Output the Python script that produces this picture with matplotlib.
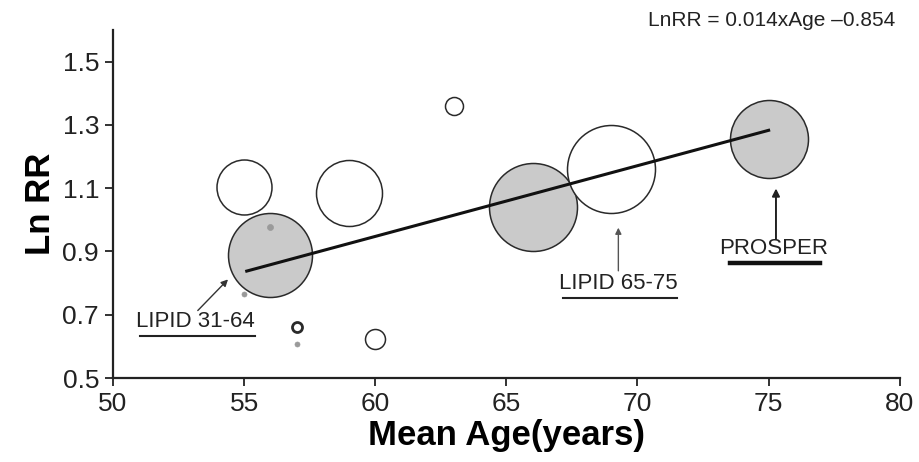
import matplotlib.pyplot as plt

plt.rcParams['font.family'] = ['Liberation Sans', 'DejaVu Sans']

# study points: mean age, ln relative risk, bubble radius (px), shaded or not
ages = [55, 59, 63, 56, 66, 69, 75, 60, 57, 57, 56, 55]
lnrr = [1.103, 1.086, 1.36, 0.889, 1.04, 1.16, 1.255, 0.624, 0.66, 0.607, 0.977, 0.764]
weight = [27.5, 33, 9, 42, 44, 44, 39, 10, 5, 2.5, 3, 2.5]
shaded = [False, False, False, True, True, False, True, False, False, True, True, True]

# fitted line end points
fit_age = [55.1, 75.0]
fit_lnrr = [0.838, 1.283]

xticks = [50, 55, 60, 65, 70, 75, 80]
yticks = [0.5, 0.7, 0.9, 1.1, 1.3, 1.5]

fig = plt.figure(figsize=(9.2, 4.62), dpi=100)
ax = fig.add_axes([0.1228, 0.1818, 0.978 - 0.1228, 0.935 - 0.1818])

for a, l, w, s in zip(ages, lnrr, weight, shaded):
    d = 2 * w * 0.72
    if w < 4:
        ax.scatter(a, l, s=d * d, facecolor='#9a9a9a', edgecolor='#9a9a9a',
                   linewidth=0.5, zorder=3)
    else:
        lw = 2.0 if w < 6 else 1.1
        ax.scatter(a, l, s=d * d, facecolor='#cacaca' if s else 'white',
                   edgecolor='#2a2a2a', linewidth=lw, zorder=2)

ax.plot(fit_age, fit_lnrr, color='#111111', linewidth=2.2, zorder=4)

ax.set_xlim(50, 80)
ax.set_ylim(0.5, 1.6)
ax.set_xticks(xticks)
ax.set_yticks(yticks)
ax.set_yticklabels(['%.1f' % v for v in yticks])
ax.spines['top'].set_visible(False)
ax.spines['right'].set_visible(False)
for sp in ['left', 'bottom']:
    ax.spines[sp].set_linewidth(1.6)
    ax.spines[sp].set_color('#222222')
ax.tick_params(direction='out', length=6, width=1.3, colors='#222222',
               labelsize=19, pad=4)

ax.set_xlabel('Mean Age(years)', fontsize=25, fontweight='bold', labelpad=2)
ax.set_ylabel('Ln RR', fontsize=25, fontweight='bold', labelpad=4)

# annotations
ax.annotate('', xy=(54.46, 0.818), xytext=(53.16, 0.707),
            arrowprops=dict(arrowstyle='-|>', color='#333333', lw=1.0,
                            mutation_scale=10))
ax.text(53.13, 0.678, 'LIPID 31-64', fontsize=16, ha='center', va='center',
        color='#222222')
ax.plot([51.03, 55.41], [0.633, 0.633], color='#222222', lw=1.5, clip_on=False)

ax.annotate('', xy=(69.27, 0.984), xytext=(69.27, 0.83),
            arrowprops=dict(arrowstyle='-|>', color='#555555', lw=1.0,
                            mutation_scale=9))
ax.text(69.27, 0.80, 'LIPID 65-75', fontsize=16, ha='center', va='center',
        color='#222222')
ax.plot([67.15, 71.5], [0.754, 0.754], color='#222222', lw=1.5)

ax.annotate('', xy=(75.28, 1.108), xytext=(75.28, 0.93),
            arrowprops=dict(arrowstyle='-|>', color='#222222', lw=1.4,
                            mutation_scale=11))
ax.text(75.2, 0.908, 'PROSPER', fontsize=16, ha='center', va='center',
        color='#222222')
ax.plot([73.53, 76.96], [0.863, 0.863], color='#111111', lw=3.2)

fig.text(0.973, 0.955, 'LnRR = 0.014xAge \u20130.854', fontsize=15,
         ha='right', va='center', color='#222222')

fig.savefig('out.png', dpi=100)
